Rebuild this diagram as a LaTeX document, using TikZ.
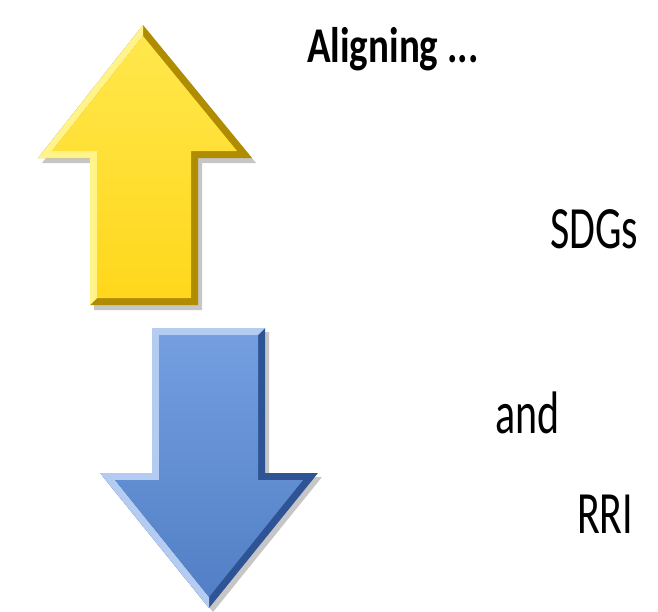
\documentclass[tikz,border=0pt]{standalone}
\usepackage{fontspec}
\setmainfont{Carlito}
\definecolor{golddark}{HTML}{B08C00}
\definecolor{goldmain}{HTML}{FFE11F}
\definecolor{goldlight}{HTML}{FFF38A}
\definecolor{bluedark}{HTML}{2F5496}
\definecolor{bluemain}{HTML}{5B8DDB}
\definecolor{bluelight}{HTML}{B4CCF2}
\tikzset{
  label text/.style={font=\fontsize{60}{72}\selectfont, anchor=base west, inner sep=0pt, xscale=0.7},
  title text/.style={font=\fontsize{50}{60}\selectfont\bfseries, anchor=base west, inner sep=0pt, xscale=0.78}
}
\begin{document}
\begin{tikzpicture}[x=1pt,y=-1pt]
      \useasboundingbox (0,0) rectangle (658,611);
      \fill[gray!45] (147,30) -- (256,163) -- (202,163) -- (202,310) -- (94,310) -- (94,163) -- (42,163) -- cycle;
      \fill[golddark] (143,25) -- (252,158) -- (198,158) -- (198,305) -- (90,305) -- (90,158) -- (38,158) -- cycle;
      \fill[goldlight] (143,25) -- (143,36) -- (52,151) -- (97,151) -- (97,298) -- (90,305) -- (90,158) -- (38,158) -- cycle;
      \shade[top color=goldmain!80!white, bottom color=goldmain!90!orange]
        (143,36) -- (237,151) -- (191,151) -- (191,298) -- (97,298) -- (97,151) -- (52,151) -- cycle;
      \fill[gray!45] (213,612) -- (322,477) -- (269,477) -- (269,332) -- (156,332) -- (156,477) -- (104,477) -- cycle;
      \fill[bluedark] (209,608) -- (318,473) -- (265,473) -- (265,328) -- (152,328) -- (152,473) -- (100,473) -- cycle;
      \fill[bluelight] (100,473) -- (152,473) -- (152,328) -- (265,328) -- (258,335) -- (159,335) -- (159,480) -- (115,480) -- (209,597) -- (209,608) -- cycle;
      \shade[top color=bluemain!85!white, bottom color=bluemain!90!black]
        (209,597) -- (303,480) -- (258,480) -- (258,335) -- (159,335) -- (159,480) -- (115,480) -- cycle;
      \node[title text] (aligning) at (307,62) {Aligning ...};
      \node[label text] (sdgs) at (550,248) {SDGs};
      \node[label text] (and) at (495,433) {and};
      \node[label text] (rri) at (577,533) {RRI};
    \end{tikzpicture}
\end{document}
